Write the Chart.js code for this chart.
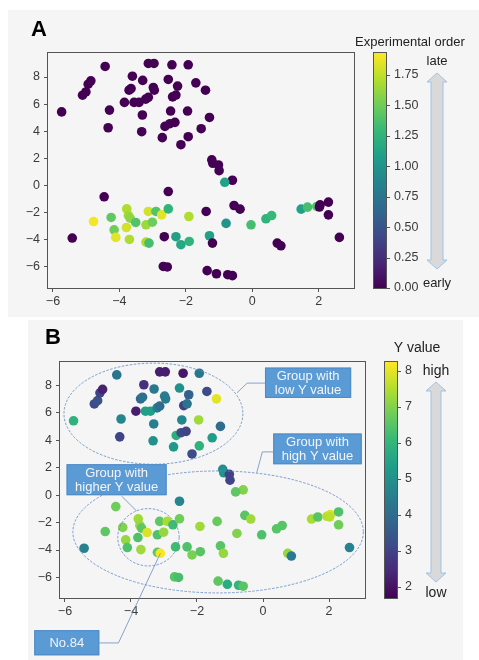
<!DOCTYPE html>
<html>
<head>
<meta charset="utf-8">
<script src="https://cdn.jsdelivr.net/npm/chart.js@4.4.1/dist/chart.umd.min.js"></script>
<style>
  body { margin: 0; background: #fff; width: 479px; height: 660px; position: relative; overflow: hidden; }
  .panel { position: absolute; background: #f5f5f5; }
  #panelA { left: 8px; top: 10px; width: 471px; height: 307px; }
  #panelB { left: 28px; top: 320px; width: 435px; height: 340px; }
  canvas { display: block; }
</style>
</head>
<body>
<div class="panel" id="panelA"><canvas id="chartA" width="471" height="307"></canvas></div>
<div class="panel" id="panelB"><canvas id="chartB" width="435" height="340"></canvas></div>
<script>
// ===== data (same points in both panels) =====
const ptX = [
  -5.74, -4.43, -5.11, -5.01, -4.94, -4.86, -4.30, -4.34, -3.85, -3.71,
  -3.65, -3.61, -3.56, -3.41, -3.30, -3.31, -3.33, -3.21, -3.13, -3.13,
  -2.96, -2.98, -2.95, -2.71, -2.63, -2.53, -2.48, -2.42, -2.46, -2.40,
  -2.30, -2.33, -2.25, -2.15, -1.95, -1.93, -1.93, -1.70, -1.54, -1.41,
  -1.29, -1.22, -1.19, -1.02, -1.00, -0.60, -0.83, -4.46, -2.53, -4.78,
  -4.25, -4.16, -4.11, -3.78, -3.73, -3.68, -3.79, -3.70, -3.51, -3.20,
  -3.01, -3.13, -2.90, -2.73, -2.53, -3.20, -3.11, -2.65, -2.30, -2.15,
  -1.90, -1.91, -1.39, -1.29, -1.20, -0.79, -0.55, -0.37, -0.04, 0.41,
  0.58, 0.75, 0.86, 1.47, 1.66, 1.94, 2.04, 2.02, 2.29, 2.29,
  2.62, -5.42, -2.68, -2.56, -1.36, -1.08, -0.74, -0.60
];
const ptY = [
  5.43, 8.78, 6.66, 6.90, 7.47, 7.72, 5.56, 4.26, 6.13, 7.03,
  7.15, 8.06, 6.13, 6.13, 7.75, 5.20, 3.97, 6.37, 6.50, 9.00,
  9.00, 7.23, 7.03, 3.53, 4.36, 7.82, 4.56, 8.90, 5.49, 6.54,
  6.67, 4.66, 7.33, 3.01, 5.49, 3.60, 8.90, 7.57, 4.19, 7.03,
  5.02, 1.89, 1.64, 1.52, 1.10, 0.39, 0.24, -0.83, -0.44, -2.65,
  -2.35, -3.26, -3.82, -1.72, -2.21, -2.40, -3.09, -3.97, -2.72, -2.89,
  -2.70, -1.91, -1.91, -2.16, -1.72, -4.17, -4.24, -3.77, -3.77, -4.36,
  -4.12, -2.28, -1.91, -3.70, -4.24, -2.79, -1.47, -1.74, -2.89, -2.45,
  -2.21, -4.24, -4.44, -1.74, -1.59, -1.54, -1.42, -1.58, -1.22, -2.16,
  -3.82, -3.87, -5.96, -6.00, -6.27, -6.50, -6.57, -6.64
];
// panel A colour: experimental order
const orderVal = [
  0, 0, 0, 0, 0, 0, 0, 0, 0, 0,
  0, 0, 0, 0, 0, 0, 0, 0, 0, 0,
  0, 0, 0, 0, 0, 0, 0, 0, 0, 0,
  0, 0, 0, 0, 0, 0, 0, 0, 0, 0,
  0, 0, 0, 0, 0, 0, 1.1, 0, 0, 1.9,
  1.45, 1.5, 1.85, 1.7, 1.65, 1.6, 1.8, 1.7, 1.4, 1.65,
  1.5, 1.8, 1.4, 1.85, 1.25, 1.7, 1.35, 0, 1.1, 1.15,
  1.25, 1.7, 0, 1.1, 0, 1.0, 0, 0, 1.35, 1.25,
  1.3, 0, 0, 1.1, 1.35, 1.4, 0, 0, 0, 0,
  0, 0, 0, 0, 0, 0, 0, 0
];
// panel B colour: Y value
const yVal = [
  5.9, 4.2, 3.2, 3.3, 3.0, 2.3, 4.7, 3.0, 2.2, 4.0,
  4.1, 2.6, 5.4, 5.4, 4.3, 4.5, 5.0, 4.5, 4.0, 2.2,
  2.2, 4.5, 4.4, 5.2, 5.8, 5.0, 3.2, 2.1, 4.7, 2.9,
  4.2, 3.0, 3.7, 3.2, 7.3, 5.9, 4.3, 3.2, 5.3, 8.0,
  4.0, 4.9, 5.1, 3.0, 3.0, 7.0, 6.6, 6.8, 4.7, 6.6,
  7.0, 7.2, 6.4, 7.3, 7.2, 6.6, 6.4, 7.3, 7.9, 6.4,
  7.2, 6.6, 7.4, 6.2, 6.8, 6.6, 8.2, 6.2, 6.4, 6.9,
  6.5, 7.3, 6.7, 6.5, 7.2, 7.0, 6.5, 7.3, 6.4, 6.5,
  6.5, 7.2, 4.4, 7.4, 6.5, 7.5, 7.9, 7.6, 6.4, 6.8,
  4.6, 4.6, 6.5, 6.3, 6.6, 5.7, 6.0, 6.5
];
const no84 = 66;

const xTicks = [-6, -4, -2, 0, 2];
const yTicks = [-6, -4, -2, 0, 2, 4, 6, 8];
const orderTicks = [0, 0.25, 0.5, 0.75, 1.0, 1.25, 1.5, 1.75];
const yValTicks = [2, 3, 4, 5, 6, 7, 8];
const orderRange = [0, 1.93];
const yValRange = [1.68, 8.25];

// ===== helpers =====
const VIR = [[68,1,84],[72,40,120],[62,74,137],[49,104,142],[38,130,142],
             [31,158,137],[53,183,121],[109,205,89],[180,222,44],[253,231,37]];
function viridis(t) {
  if (isNaN(t)) t = 0;
  t = Math.max(0, Math.min(1, t));
  const f = t * (VIR.length - 1);
  const i = Math.min(Math.floor(f), VIR.length - 2);
  const u = f - i, a = VIR[i], b = VIR[i + 1];
  return 'rgb(' + a.map((c, k) => Math.round(c + (b[k] - c) * u)).join(',') + ')';
}
const fmtMinus = v => (v < 0 ? '\u2212' + Math.abs(v) : String(v));
const FONT = 'Liberation Sans';
const tickFont = { family: FONT, size: 12.5 };
const tickColor = '#3a3a3a';
const lineCol = '#555';

function drawArrow(ctx, cx, top, bot, headHalf, shaftHalf, headLen) {
  ctx.beginPath();
  ctx.moveTo(cx, top);
  ctx.lineTo(cx + headHalf, top + headLen);
  ctx.lineTo(cx + shaftHalf, top + headLen);
  ctx.lineTo(cx + shaftHalf, bot - headLen);
  ctx.lineTo(cx + headHalf, bot - headLen);
  ctx.lineTo(cx, bot);
  ctx.lineTo(cx - headHalf, bot - headLen);
  ctx.lineTo(cx - shaftHalf, bot - headLen);
  ctx.lineTo(cx - shaftHalf, top + headLen);
  ctx.lineTo(cx - headHalf, top + headLen);
  ctx.closePath();
  ctx.fillStyle = '#d9d9d9';
  ctx.fill();
  ctx.strokeStyle = '#9dc3e6';
  ctx.lineWidth = 1;
  ctx.stroke();
}

function makeChart(id, p) {
  const canvas = document.getElementById(id);
  const W = canvas.width, H = canvas.height;
  const setTicks = arr => s => { s.ticks = arr.map(v => ({ value: v })); };
  // keep label overhang from pushing the plot area around
  const noPad = s => { s.paddingTop = 0; s.paddingBottom = 0; s.paddingLeft = 0; s.paddingRight = 0; };

  const deco = {
    id: 'deco_' + id,
    afterDraw(chart) {
      const { ctx, chartArea: a } = chart;
      const cb = chart.scales.cb;
      ctx.save();
      // axes frame
      ctx.strokeStyle = lineCol;
      ctx.lineWidth = 1;
      ctx.strokeRect(a.left - 0.5, a.top - 0.5, a.right - a.left + 1, a.bottom - a.top + 1);

      // colour bar
      const bx = a.right + 20, bw = 12;
      const top = cb.getPixelForValue(cb.max), bot = cb.getPixelForValue(cb.min);
      const g = ctx.createLinearGradient(0, bot, 0, top);
      VIR.forEach((c, i) => g.addColorStop(i / (VIR.length - 1), 'rgb(' + c.join(',') + ')'));
      ctx.fillStyle = g;
      ctx.fillRect(bx, top, bw, bot - top);
      ctx.strokeRect(bx - 0.5, top - 0.5, bw + 1, bot - top + 1);
      ctx.beginPath();
      cb.ticks.forEach(t => {
        const yy = Math.round(cb.getPixelForValue(t.value)) + 0.5;
        ctx.moveTo(bx + bw, yy);
        ctx.lineTo(bx + bw + 4, yy);
      });
      ctx.stroke();

      // colour bar title and arrow
      ctx.fillStyle = '#222';
      ctx.textAlign = 'center';
      ctx.textBaseline = 'middle';
      ctx.font = p.deco.size + 'px ' + FONT;
      ctx.fillText(p.deco.title, a.right + p.deco.titleDx, a.top + p.deco.titleDy);
      ctx.fillText(p.deco.hi, a.right + p.deco.arrowDx, a.top + p.deco.hiDy);
      ctx.fillText(p.deco.lo, a.right + p.deco.arrowDx, a.bottom + p.deco.loDy);
      drawArrow(ctx, a.right + p.deco.arrowDx, a.top + p.deco.arrowTop, a.bottom + p.deco.arrowBot,
        10, p.deco.shaft, 9);

      // panel letter
      ctx.fillStyle = '#000';
      ctx.textAlign = 'left';
      ctx.textBaseline = 'alphabetic';
      ctx.font = 'bold 22px ' + FONT;
      ctx.fillText(p.letter, p.letterX, p.letterY);

      if (p.extra) p.extra(chart, ctx);
      ctx.restore();
    }
  };

  return new Chart(canvas, {
    type: 'scatter',
    data: {
      datasets: [{
        data: ptX.map((x, i) => ({ x: x, y: ptY[i] })),
        pointRadius: 4.8,
        pointHoverRadius: 4.8,
        borderWidth: 0,
        backgroundColor: c => viridis((p.cVals[c.dataIndex] - p.cRange[0]) / (p.cRange[1] - p.cRange[0]))
      }]
    },
    options: {
      responsive: false,
      animation: false,
      events: [],
      layout: { padding: { top: p.area.top, left: 0, right: 0, bottom: 0 } },
      plugins: { legend: { display: false }, tooltip: { enabled: false } },
      scales: {
        x: {
          type: 'linear', position: 'bottom', min: p.xRange[0], max: p.xRange[1],
          afterBuildTicks: setTicks(xTicks),
          afterFit: s => { noPad(s); s.height = H - p.area.bottom; },
          ticks: { font: tickFont, color: tickColor, padding: 2, callback: fmtMinus },
          grid: { drawOnChartArea: false, tickLength: 4, color: lineCol },
          border: { display: false }
        },
        y: {
          type: 'linear', position: 'left', min: p.yRange[0], max: p.yRange[1],
          afterBuildTicks: setTicks(yTicks),
          afterFit: s => { noPad(s); s.width = p.area.left; },
          ticks: { font: tickFont, color: tickColor, padding: 4, callback: fmtMinus },
          grid: { drawOnChartArea: false, tickLength: 4, color: lineCol },
          border: { display: false }
        },
        cb: {
          type: 'linear', axis: 'y', position: 'right', min: p.cRange[0], max: p.cRange[1],
          afterBuildTicks: setTicks(p.cTicks),
          afterFit: s => { noPad(s); s.width = W - p.area.right; },
          ticks: { font: tickFont, color: tickColor, padding: 40, callback: p.cFormat },
          grid: { display: false, drawTicks: false },
          border: { display: false }
        }
      }
    },
    plugins: [deco]
  });
}

// ===== panel A =====
makeChart('chartA', {
  area: { left: 40, top: 43, right: 346, bottom: 278 },
  xRange: [-6.15, 3.06], yRange: [-7.55, 9.77],
  cVals: orderVal, cRange: orderRange, cTicks: orderTicks,
  cFormat: v => v.toFixed(2),
  letter: 'A', letterX: 23, letterY: 26,
  deco: { title: 'Experimental order', hi: 'late', lo: 'early', size: 13,
          titleDx: 56, titleDy: -11, arrowDx: 83, hiDy: 8, loDy: -5,
          arrowTop: 20, arrowBot: -19, shaft: 6 }
});

// ===== panel B =====
const ellipses = [
  { cx: -3.32, cy: 5.95, rx: 2.71, ry: 3.69 },
  { cx: -1.36, cy: -2.68, rx: 4.40, ry: 4.45 },
  { cx: -3.47, cy: -3.07, rx: 0.93, ry: 2.09 }
];
const boxes = [
  { x0: 0.06, x1: 2.67, y0: 9.31, y1: 7.10, lines: ['Group with', 'low Y value'] },
  { x0: 0.31, x1: 2.99, y0: 4.50, y1: 2.26, lines: ['Group with', 'high Y value'] },
  { x0: -5.95, x1: -2.92, y0: 2.26, y1: 0.0, lines: ['Group with', 'higher Y value'] },
  { x0: -6.93, x1: -4.96, y0: -9.85, y1: -11.68, lines: ['No.84'] }
];
const links = [
  [[0.06, 8.18], [-0.48, 8.18], [-0.79, 7.47]],
  [[0.31, 3.16], [-0.02, 3.16], [-0.19, 1.64]],
  [[-4.28, -0.07], [-3.83, -1.15]],
  [[-4.96, -10.78], [-4.38, -10.78], [ptX[no84], ptY[no84]]]
];

function notesB(chart, ctx) {
  const sx = v => chart.scales.x.getPixelForValue(v);
  const sy = v => chart.scales.y.getPixelForValue(v);
  ctx.strokeStyle = '#5a87c0';
  ctx.lineWidth = 0.8;
  ctx.setLineDash([2.5, 1.5]);
  ellipses.forEach(e => {
    ctx.beginPath();
    ctx.ellipse(sx(e.cx), sy(e.cy), Math.abs(sx(e.cx + e.rx) - sx(e.cx)),
      Math.abs(sy(e.cy + e.ry) - sy(e.cy)), 0, 0, Math.PI * 2);
    ctx.stroke();
  });
  ctx.setLineDash([]);
  ctx.strokeStyle = '#6a8fbf';
  links.forEach(l => {
    ctx.beginPath();
    l.forEach((pt, i) => (i ? ctx.lineTo(sx(pt[0]), sy(pt[1])) : ctx.moveTo(sx(pt[0]), sy(pt[1]))));
    ctx.stroke();
  });
  ctx.font = '13px ' + FONT;
  ctx.textAlign = 'center';
  ctx.textBaseline = 'middle';
  boxes.forEach(b => {
    const l = sx(b.x0), r = sx(b.x1), t = sy(b.y0), bt = sy(b.y1);
    ctx.fillStyle = '#5b9bd5';
    ctx.fillRect(l, t, r - l, bt - t);
    ctx.strokeStyle = '#4f89c3';
    ctx.lineWidth = 1;
    ctx.strokeRect(l + 0.5, t + 0.5, r - l - 1, bt - t - 1);
    ctx.fillStyle = '#f4f4f4';
    const cy = (t + bt) / 2, gap = 14.6;
    b.lines.forEach((s, i) => {
      ctx.fillText(s, (l + r) / 2, cy + (i - (b.lines.length - 1) / 2) * gap + 0.5);
    });
  });
}

makeChart('chartB', {
  area: { left: 32, top: 42, right: 337, bottom: 278 },
  xRange: [-6.15, 3.09], yRange: [-7.5, 9.72],
  cVals: yVal, cRange: yValRange, cTicks: yValTicks,
  cFormat: v => String(v),
  letter: 'B', letterX: 17, letterY: 24,
  deco: { title: 'Y value', hi: 'high', lo: 'low', size: 14,
          titleDx: 52, titleDy: -14, arrowDx: 71, hiDy: 9, loDy: -5,
          arrowTop: 20, arrowBot: -16, shaft: 5 },
  extra: notesB
});
</script>
</body>
</html>
